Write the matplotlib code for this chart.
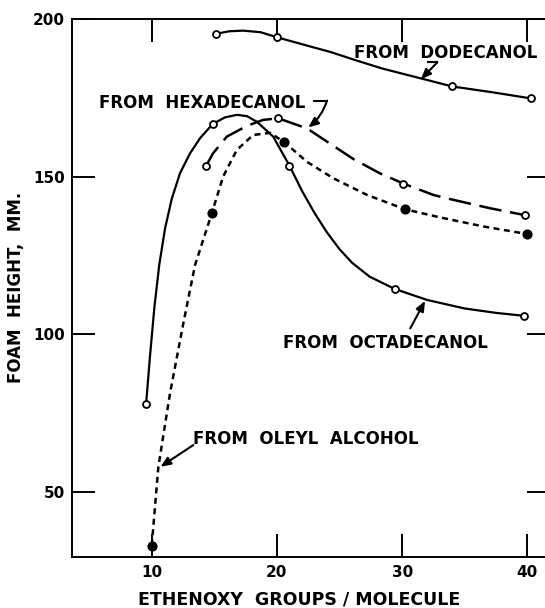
import numpy as np
import matplotlib
matplotlib.use('Agg')
import matplotlib.pyplot as plt

# measured points (open circles / filled circles)
dodec_x = [15.15, 20.0, 34.0, 40.3]
dodec_y = [195.3, 194.2, 178.6, 174.8]
hexa_x = [14.34, 20.1, 30.1, 39.8]
hexa_y = [153.4, 168.5, 147.8, 137.8]
octa_x = [9.55, 14.87, 21.0, 29.4, 39.7]
octa_y = [77.9, 166.7, 153.5, 114.4, 105.9]
oleyl_x = [10.0, 14.8, 20.6, 30.2, 40.0]
oleyl_y = [33.0, 138.4, 160.9, 139.7, 131.8]

# hand-drawn curves
dodec_cx = [15.15, 16.2, 17.3, 18.7, 20.0, 22.0, 24.3, 26.3, 28.4, 31.75, 34.0, 37.3, 40.3]
dodec_cy = [195.3, 196.1, 196.3, 195.8, 194.2, 192.0, 189.5, 186.9, 184.3, 180.9, 178.6, 176.7, 174.8]
hexa_cx = [14.34, 14.9, 16.0, 17.6, 18.9, 20.1, 22.4, 24.0, 26.1, 28.2, 30.1, 32.5, 33.6, 37.0, 39.8]
hexa_cy = [153.4, 157.4, 162.7, 166.1, 168.0, 168.5, 165.3, 161.1, 155.6, 151.1, 147.8, 144.2, 143.1, 140.0, 137.8]
octa_cx = [9.55, 9.86, 10.21, 10.6, 11.06, 11.6, 12.26, 13.06, 13.86, 14.87, 15.85, 16.8, 17.6,
           18.4, 19.7, 21.0, 22.0, 23.0, 24.0, 25.0, 26.0, 27.4, 29.4, 32.0, 35.0, 37.5, 39.7]
octa_cy = [77.9, 93.0, 108.5, 122.0, 133.5, 143.0, 151.1, 157.4, 162.2, 166.7, 168.8, 169.6, 169.2,
           167.4, 162.7, 153.5, 145.5, 138.5, 132.3, 127.0, 122.7, 118.3, 114.4, 110.9, 108.2, 106.8, 105.9]
oleyl_cx = [10.0, 10.53, 11.46, 12.5, 13.46, 14.8, 15.7, 16.8, 18.1, 19.45, 20.6, 22.4, 24.5,
            27.2, 30.2, 33.0, 36.5, 40.0]
oleyl_cy = [33.0, 58.0, 81.3, 103.0, 122.0, 138.4, 150.0, 158.5, 163.2, 163.9, 160.9, 154.7, 149.5,
            144.2, 139.7, 137.1, 134.2, 131.8]

xticks = [10, 20, 30, 40]
yticks = [50, 100, 150, 200]

fig = plt.figure(figsize=(5.45, 6.08), dpi=100)
ax = fig.add_axes([0.1316, 0.0844, 0.8776, 0.8844])

lw = 1.6
ax.plot(dodec_cx, dodec_cy, color='black', lw=lw, solid_joinstyle='round')
ax.plot(octa_cx, octa_cy, color='black', lw=lw, solid_joinstyle='round')
ax.plot(hexa_cx, hexa_cy, color='black', lw=1.8, dashes=[9, 3.5])
ax.plot(oleyl_cx, oleyl_cy, color='black', lw=1.8, dashes=[2.4, 1.8])

mk = dict(ls='none', marker='o', ms=5, mec='black', mew=1.3, zorder=5)
ax.plot(dodec_x, dodec_y, mfc='white', **mk)
ax.plot(hexa_x, hexa_y, mfc='white', **mk)
ax.plot(octa_x, octa_y, mfc='white', **mk)
ax.plot(oleyl_x, oleyl_y, mfc='black', **dict(mk, ms=6))

ax.set_xlim(3.61, 41.81)
ax.set_ylim(29.5, 200)
ax.set_xticks(xticks)
ax.set_yticks(yticks)

for s in ax.spines.values():
    s.set_linewidth(1.4)
ax.tick_params(direction='in', length=16.5, width=1.4, top=True, right=True,
               labelsize=11, pad=5)
ax.tick_params(axis='x', pad=6)
for lab in ax.get_xticklabels() + ax.get_yticklabels():
    lab.set_fontweight('bold')

ax.set_xlabel('ETHENOXY  GROUPS / MOLECULE', fontsize=12.5, fontweight='bold')
ax.xaxis.set_label_coords(0.475, -0.062)
ax.set_ylabel('FOAM  HEIGHT,  MM.', fontsize=12, fontweight='bold')
ax.yaxis.set_label_coords(-0.097, 0.5)

tkw = dict(fontsize=12, fontweight='bold', va='center', ha='center')
ax.text(33.49, 189.2, 'FROM  DODECANOL', **tkw)
ax.text(14.06, 173.5, 'FROM  HEXADECANOL', **tkw)
ax.text(28.7, 97.2, 'FROM  OCTADECANOL', **tkw)
ax.text(22.32, 66.8, 'FROM  OLEYL  ALCOHOL', **tkw)

# leaders
akw = dict(arrowstyle='-|>,head_length=0.6,head_width=0.25', color='black', lw=1.5,
           shrinkA=0, shrinkB=0)
ax.plot([32.1, 32.8], [186.2, 186.2], color='black', lw=1.5)
ax.annotate('', xy=(31.5, 180.9), xytext=(32.8, 186.2), arrowprops=akw)
ax.plot([23.0, 24.0], [174.1, 174.1], color='black', lw=1.5)
ax.annotate('', xy=(22.5, 165.6), xytext=(24.0, 174.1),
            arrowprops=dict(akw, connectionstyle='arc3,rad=-0.15'))
ax.annotate('', xy=(31.83, 110.6), xytext=(30.65, 101.9), arrowprops=akw)
ax.annotate('', xy=(10.7, 58.0), xytext=(13.32, 64.9), arrowprops=akw)

fig.savefig('out.png', dpi=100)
